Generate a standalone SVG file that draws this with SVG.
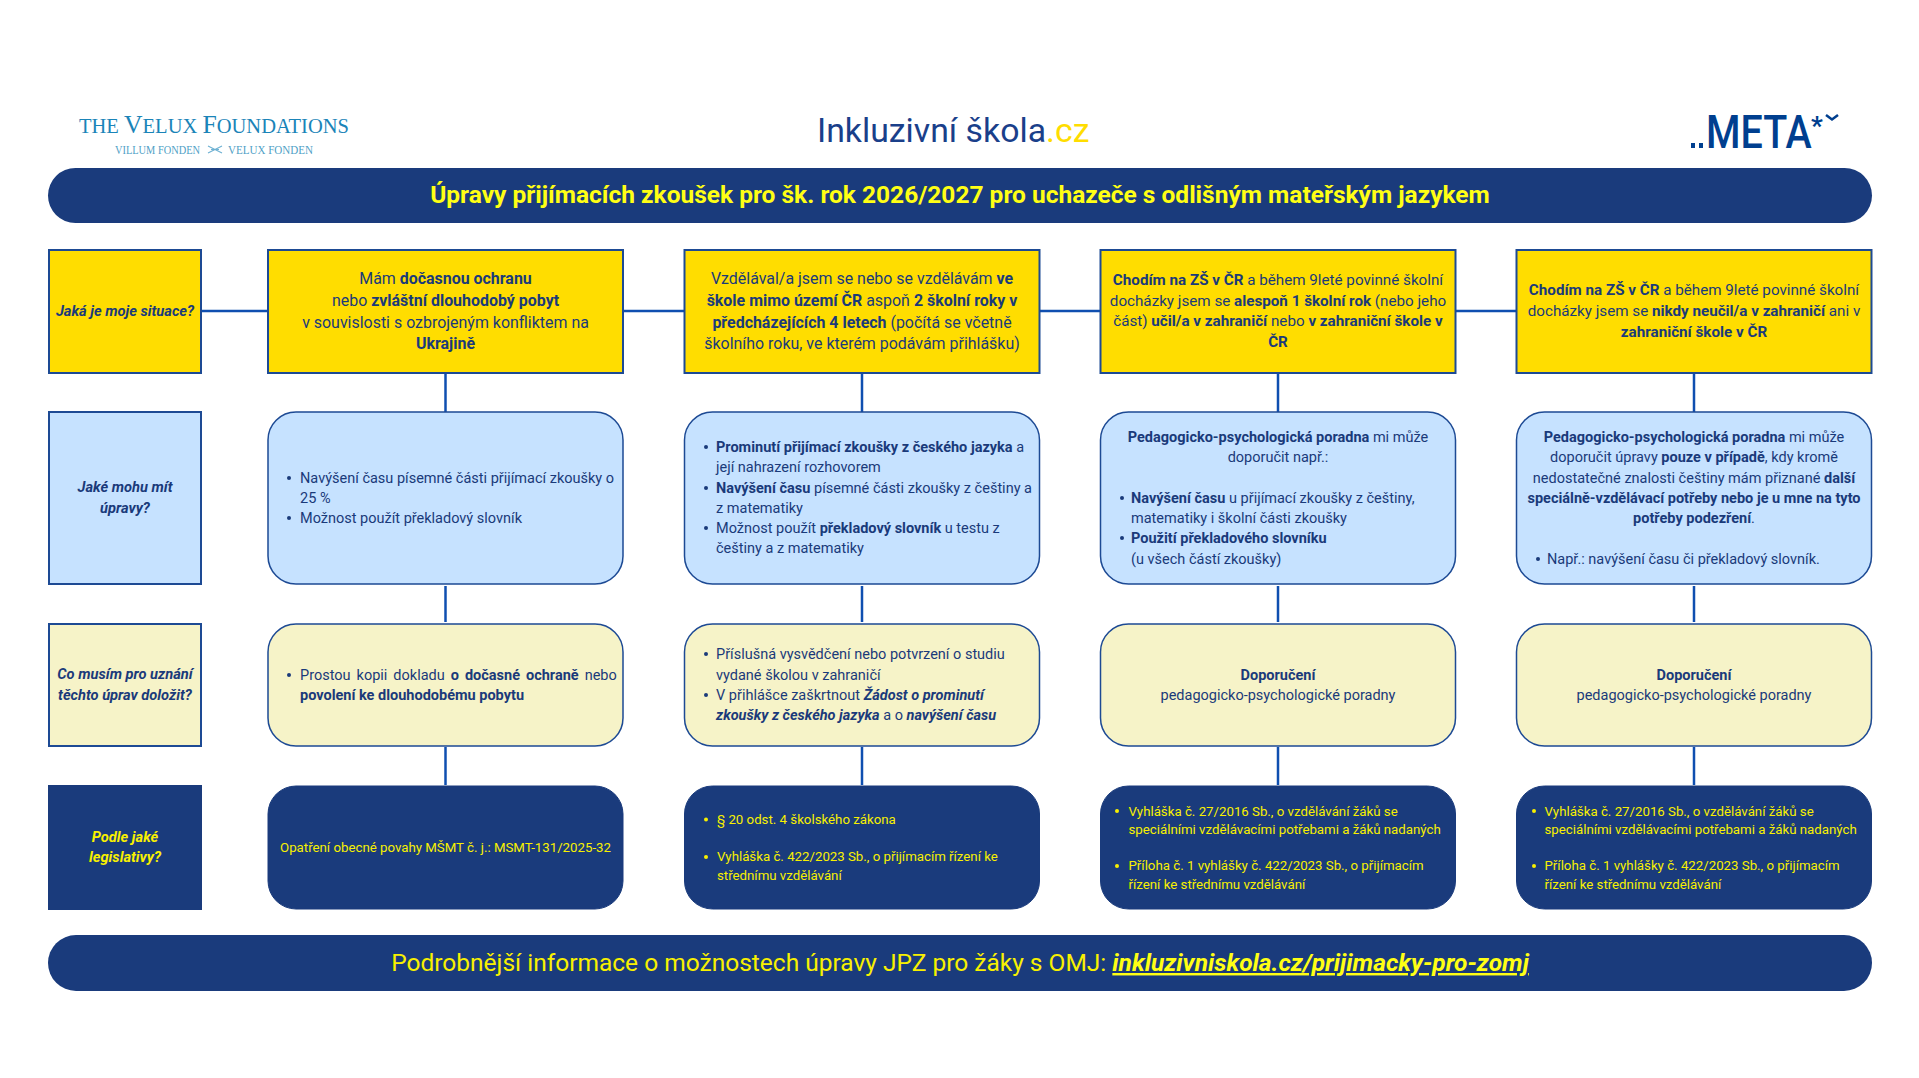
<svg xmlns="http://www.w3.org/2000/svg" width="1919" height="1078" viewBox="0 0 1919 1078">
<style>
text{font-family:Roboto,"Liberation Sans",sans-serif;fill:#1a3a7a;font-size:14.5px}
.c{text-anchor:middle}
.b{font-weight:700}
.l{font-weight:700;font-style:italic;font-size:14.65px;text-anchor:middle}
.s16{font-size:15.95px}
.s15{font-size:15.2px}
.t13{font-size:13.25px;fill:#f8f000}
.bar{fill:#1a3b7c}
.box{stroke:#1d4a94;stroke-width:2}
.rnd{stroke:#1d4a94;stroke-width:1.5}
.yl{fill:#ffdd00}.bl{fill:#c6e2ff}.pa{fill:#f6f3c8}.dk{fill:#1a3b7c;stroke:#1a3b7c}
.dot{fill:#1a3a7a}.doty{fill:#f8f000}
.ser{font-family:"Liberation Serif",serif;fill:#1a84b8}
.ser2{font-family:"Liberation Serif",serif;fill:#4f9fc6;font-size:11.6px}
#connectors line{stroke:#0f4fb0;stroke-width:2.5}
</style>
<rect width="1919" height="1078" fill="#fff"/>
<g id="logo-velux">
<text class="ser" x="79" y="133" textLength="270" lengthAdjust="spacingAndGlyphs" style="font-size:20px">THE <tspan style="font-size:25px">V</tspan>ELUX <tspan style="font-size:25px">F</tspan>OUNDATIONS</text>
<text class="ser2" x="115" y="153.500" textLength="85" lengthAdjust="spacingAndGlyphs">VILLUM FONDEN</text>
<path d="M208 146l14 7M208 153l14-7M211 149.500h8" stroke="#6fb2d3" stroke-width="1.2" fill="none"/>
<text class="ser2" x="228" y="153.500" textLength="85" lengthAdjust="spacingAndGlyphs">VELUX FONDEN</text>
</g>
<g id="logo-inkluzivni">
<text x="817" y="142" style="font-size:33.8px;fill:#1a3f8a">Inkluzivní škola<tspan style="fill:#ffdd00">.cz</tspan></text>
</g>
<g id="logo-meta">
<path d="M1691 143h4v5h-4zM1699 143h4v5h-4z" fill="#003f8f"/>
<text transform="translate(1706 147.500) scale(.84 1)" style="font-size:47px;font-weight:500;fill:#003f8f">META</text>
<text x="1811" y="135" style="font-size:26px;font-weight:700;fill:#003f8f">*</text>
<path d="M1826 115l6 4.500 6-4.500" stroke="#003f8f" stroke-width="2.500" fill="none"/>
</g>
<g id="connectors">
<line x1="202" y1="311" x2="267" y2="311"/><line x1="624" y1="311" x2="684" y2="311"/><line x1="1040" y1="311" x2="1100" y2="311"/><line x1="1455" y1="311" x2="1516" y2="311"/>
<line x1="445.5" y1="373" x2="445.5" y2="412"/><line x1="445.5" y1="586" x2="445.5" y2="622"/><line x1="445.5" y1="747" x2="445.5" y2="785"/>
<line x1="862" y1="373" x2="862" y2="412"/><line x1="862" y1="586" x2="862" y2="622"/><line x1="862" y1="747" x2="862" y2="785"/>
<line x1="1278" y1="373" x2="1278" y2="412"/><line x1="1278" y1="586" x2="1278" y2="622"/><line x1="1278" y1="747" x2="1278" y2="785"/>
<line x1="1694" y1="373" x2="1694" y2="412"/><line x1="1694" y1="586" x2="1694" y2="622"/><line x1="1694" y1="747" x2="1694" y2="785"/>
</g>
<g id="header"><rect class="bar" x="48" y="168" width="1824" height="55" rx="27.5"/>
<text class="c b" x="960" y="203" style="font-size:24.5px;fill:#ffff14">Úpravy přijímacích zkoušek pro šk. rok 2026/2027 pro uchazeče s odlišným mateřským jazykem</text></g>
<g id="q1"><rect class="box yl" x="49" y="250" width="152" height="123"/><text class="l" x="125" y="316">Jaká je moje situace?</text></g>
<g id="q2"><rect class="box bl" x="49" y="412" width="152" height="172"/><text class="l" x="125" y="492">Jaké mohu mít</text><text class="l" x="125" y="513">úpravy?</text></g>
<g id="q3"><rect class="box pa" x="49" y="624" width="152" height="122"/><text class="l" x="125" y="679">Co musím pro uznání</text><text class="l" x="125" y="700">těchto úprav doložit?</text></g>
<g id="q4"><rect class="box dk" x="49" y="786" width="152" height="123"/><text class="l" x="125" y="842" style="fill:#f8f000">Podle jaké</text><text class="l" x="125" y="862" style="fill:#f8f000">legislativy?</text></g>

<g id="s1"><rect class="box yl" x="268" y="250" width="355" height="123"/>
<text class="c s16" x="445.5" y="284">Mám <tspan class="b">dočasnou ochranu</tspan></text>
<text class="c s16" x="445.5" y="305.500">nebo <tspan class="b">zvláštní dlouhodobý pobyt</tspan></text>
<text class="c s16" x="445.5" y="327.500">v souvislosti s ozbrojeným konfliktem na</text>
<text class="c s16 b" x="445.5" y="349">Ukrajině</text></g>
<g id="s2"><rect class="box yl" x="684.500" y="250" width="355" height="123"/>
<text class="c s16" x="862" y="284">Vzdělával/a jsem se nebo se vzdělávám <tspan class="b">ve</tspan></text>
<text class="c s16" x="862" y="305.500"><tspan class="b">škole mimo území ČR</tspan> aspoň <tspan class="b">2 školní roky v</tspan></text>
<text class="c s16" x="862" y="327.500"><tspan class="b">předcházejících 4 letech</tspan> (počítá se včetně</text>
<text class="c s16" x="862" y="349">školního roku, ve kterém podávám přihlášku)</text></g>
<g id="s3"><rect class="box yl" x="1100.500" y="250" width="355" height="123"/>
<text class="c s15" x="1278" y="285"><tspan class="b">Chodím na ZŠ v ČR</tspan> a během 9leté povinné školní</text>
<text class="c s15" x="1278" y="305.500">docházky jsem se <tspan class="b">alespoň 1 školní rok</tspan> (nebo jeho</text>
<text class="c s15" x="1278" y="326">část) <tspan class="b">učil/a v zahraničí</tspan> nebo <tspan class="b">v zahraniční škole v</tspan></text>
<text class="c s15 b" x="1278" y="347">ČR</text></g>
<g id="s4"><rect class="box yl" x="1516.500" y="250" width="355" height="123"/>
<text class="c s15" x="1694" y="294.500"><tspan class="b">Chodím na ZŠ v ČR</tspan> a během 9leté povinné školní</text>
<text class="c s15" x="1694" y="316">docházky jsem se <tspan class="b">nikdy neučil/a v zahraničí</tspan> ani v</text>
<text class="c s15 b" x="1694" y="336.500">zahraniční škole v ČR</text></g>

<g id="a1"><rect class="rnd bl" x="268" y="412" width="355" height="172" rx="28"/>
<circle class="dot" cx="289" cy="478" r="2"/><text x="300" y="482.500">Navýšení času písemné části přijímací zkoušky o</text>
<text x="300" y="503">25 %</text>
<circle class="dot" cx="289" cy="518" r="2"/><text x="300" y="523">Možnost použít překladový slovník</text></g>
<g id="a2"><rect class="rnd bl" x="684.500" y="412" width="355" height="172" rx="28"/>
<circle class="dot" cx="706" cy="447" r="2"/><text x="716" y="452"><tspan class="b">Prominutí přijímací zkoušky z českého jazyka</tspan> a</text>
<text x="716" y="472">její nahrazení rozhovorem</text>
<circle class="dot" cx="706" cy="488" r="2"/><text x="716" y="492.500"><tspan class="b">Navýšení času</tspan> písemné části zkoušky z češtiny a</text>
<text x="716" y="513">z matematiky</text>
<circle class="dot" cx="706" cy="528" r="2"/><text x="716" y="533">Možnost použít <tspan class="b">překladový slovník</tspan> u testu z</text>
<text x="716" y="553">češtiny a z matematiky</text></g>
<g id="a3"><rect class="rnd bl" x="1100.500" y="412" width="355" height="172" rx="28"/>
<text class="c" x="1278" y="442"><tspan class="b">Pedagogicko-psychologická poradna</tspan> mi může</text>
<text class="c" x="1278" y="462">doporučit např.:</text>
<circle class="dot" cx="1122" cy="498" r="2"/><text x="1131" y="503"><tspan class="b">Navýšení času</tspan> u přijímací zkoušky z češtiny,</text>
<text x="1131" y="523">matematiky i školní části zkoušky</text>
<circle class="dot" cx="1122" cy="538" r="2"/><text x="1131" y="543" class="b">Použití překladového slovníku</text>
<text x="1131" y="563.500">(u všech částí zkoušky)</text></g>
<g id="a4"><rect class="rnd bl" x="1516.500" y="412" width="355" height="172" rx="28"/>
<text class="c" x="1694" y="442"><tspan class="b">Pedagogicko-psychologická poradna</tspan> mi může</text>
<text class="c" x="1694" y="462">doporučit úpravy <tspan class="b">pouze v případě</tspan>, kdy kromě</text>
<text class="c" x="1694" y="482.500">nedostatečné znalosti češtiny mám přiznané <tspan class="b">další</tspan></text>
<text class="c b" x="1694" y="503">speciálně-vzdělávací potřeby nebo je u mne na tyto</text>
<text class="c" x="1694" y="523"><tspan class="b">potřeby podezření</tspan>.</text>
<circle class="dot" cx="1538" cy="559" r="2"/><text x="1547" y="563.500">Např.: navýšení času či překladový slovník.</text></g>

<g id="d1"><rect class="rnd pa" x="268" y="624" width="355" height="122" rx="28"/>
<circle class="dot" cx="289" cy="675" r="2"/><text x="300" y="679.500" style="word-spacing:2.4px">Prostou kopii dokladu <tspan class="b">o dočasné ochraně</tspan> nebo</text>
<text x="300" y="700" class="b">povolení ke dlouhodobému pobytu</text></g>
<g id="d2"><rect class="rnd pa" x="684.500" y="624" width="355" height="122" rx="28"/>
<circle class="dot" cx="706" cy="654" r="2"/><text x="716" y="659">Příslušná vysvědčení nebo potvrzení o studiu</text>
<text x="716" y="679.500">vydané školou v zahraničí</text>
<circle class="dot" cx="706" cy="695" r="2"/><text x="716" y="700">V přihlášce zaškrtnout <tspan class="b" font-style="italic">Žádost o prominutí</tspan></text>
<text x="716" y="720"><tspan class="b" font-style="italic">zkoušky z českého jazyka</tspan> a o <tspan class="b" font-style="italic">navýšení času</tspan></text></g>
<g id="d3"><rect class="rnd pa" x="1100.500" y="624" width="355" height="122" rx="28"/>
<text class="c b" x="1278" y="679.500">Doporučení</text><text class="c" x="1278" y="700">pedagogicko-psychologické poradny</text></g>
<g id="d4"><rect class="rnd pa" x="1516.500" y="624" width="355" height="122" rx="28"/>
<text class="c b" x="1694" y="679.500">Doporučení</text><text class="c" x="1694" y="700">pedagogicko-psychologické poradny</text></g>

<g id="l1"><rect class="dk" x="268" y="786" width="355" height="123" rx="28"/>
<text class="c t13" x="445.500" y="852">Opatření obecné povahy MŠMT č. j.: MSMT-131/2025-32</text></g>
<g id="l2"><rect class="dk" x="684.500" y="786" width="355" height="123" rx="28"/>
<circle class="doty" cx="706" cy="819.500" r="2"/><text class="t13" x="717" y="824">§ 20 odst. 4 školského zákona</text>
<circle class="doty" cx="706" cy="857" r="2"/><text class="t13" x="717" y="861">Vyhláška č. 422/2023 Sb., o přijímacím řízení ke</text>
<text class="t13" x="717" y="879.500">střednímu vzdělávání</text></g>
<g id="l3"><rect class="dk" x="1100.500" y="786" width="355" height="123" rx="28"/>
<circle class="doty" cx="1117" cy="811" r="2"/><text class="t13" x="1128.500" y="815.500">Vyhláška č. 27/2016 Sb., o vzdělávání žáků se</text>
<text class="t13" x="1128.500" y="833.500">speciálními vzdělávacími potřebami a žáků nadaných</text>
<circle class="doty" cx="1117" cy="866" r="2"/><text class="t13" x="1128.500" y="870">Příloha č. 1 vyhlášky č. 422/2023 Sb., o přijímacím</text>
<text class="t13" x="1128.500" y="888.500">řízení ke střednímu vzdělávání</text></g>
<g id="l4"><rect class="dk" x="1516.500" y="786" width="355" height="123" rx="28"/>
<circle class="doty" cx="1534" cy="811" r="2"/><text class="t13" x="1544.500" y="815.500">Vyhláška č. 27/2016 Sb., o vzdělávání žáků se</text>
<text class="t13" x="1544.500" y="833.500">speciálními vzdělávacími potřebami a žáků nadaných</text>
<circle class="doty" cx="1534" cy="866" r="2"/><text class="t13" x="1544.500" y="870">Příloha č. 1 vyhlášky č. 422/2023 Sb., o přijímacím</text>
<text class="t13" x="1544.500" y="888.500">řízení ke střednímu vzdělávání</text></g>

<g id="footer"><rect class="bar" x="48" y="935" width="1824" height="56" rx="28"/>
<text class="c" x="960" y="971" style="font-size:24.5px;fill:#f8f000">Podrobnější informace o možnostech úpravy JPZ pro žáky s OMJ: <tspan font-weight="700" font-style="italic" text-decoration="underline" style="fill:#ffff14">inkluzivniskola.cz/prijimacky-pro-zomj</tspan></text></g>
</svg>
